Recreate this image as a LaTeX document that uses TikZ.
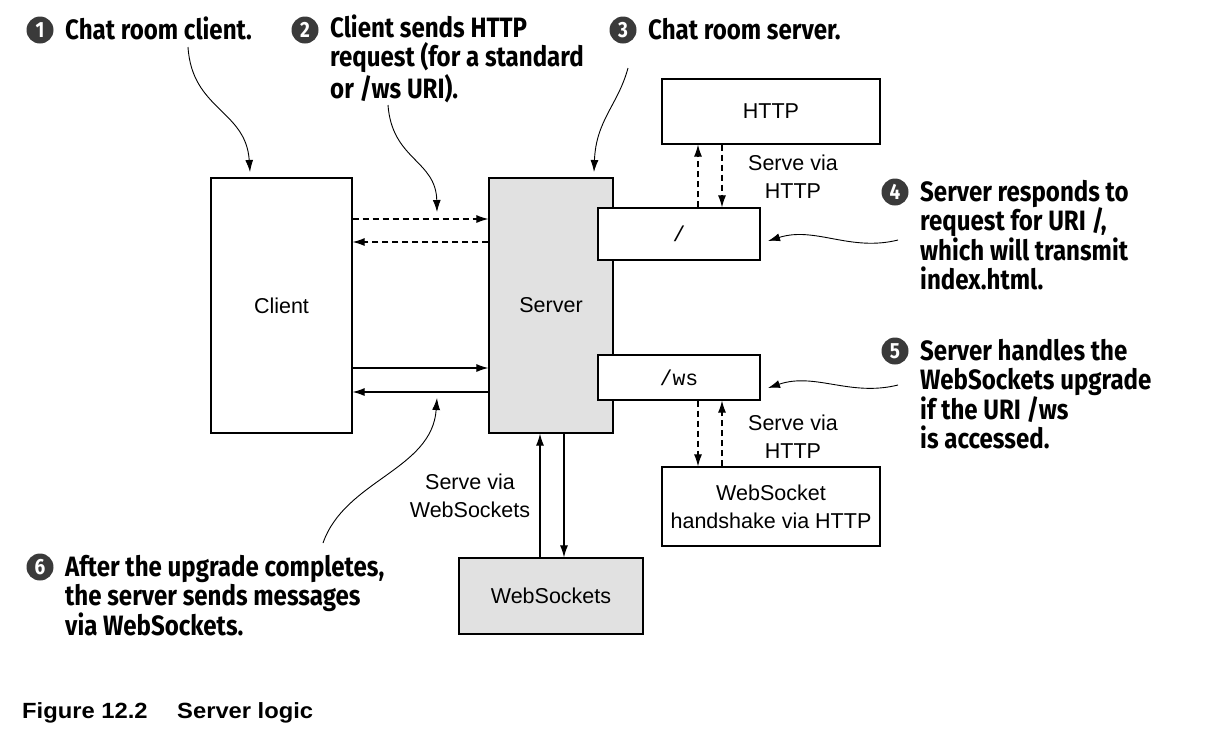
\documentclass[tikz,border=0pt]{standalone}
\usepackage{fontspec}
\setmainfont{Liberation Sans}
\setmonofont{Liberation Mono}
\newfontfamily\notefont[FakeStretch=0.86]{Fira Sans}
\newfontfamily\capfont[FakeStretch=1.08]{Liberation Sans}
\usetikzlibrary{arrows.meta}

\definecolor{ServerGray}{HTML}{E1E1E1}
\definecolor{BulletGray}{HTML}{3A3A3A}

\tikzset{
  box/.style={draw,line width=1.2pt,fill=white,inner sep=0pt,font=\fontsize{21.5}{28}\selectfont},
  graybox/.style={box,fill=ServerGray},
  flow/.style={line width=1.1pt,-{Latex[length=12pt,width=8pt]}},
  dflow/.style={flow,dash pattern=on 6pt off 4pt},
  callout/.style={line width=0.9pt,-{Latex[length=12pt,width=8pt]}},
  bullet/.style={circle,fill=BulletGray,text=white,inner sep=0pt,minimum size=27pt,
    font=\notefont\bfseries\fontsize{22}{22}\selectfont},
  note/.style={anchor=base west,align=left,inner sep=0pt,
    font=\notefont\bfseries\fontsize{28}{29.5}\selectfont},
  lbl/.style={align=center,inner sep=0pt,font=\fontsize{21.5}{28}\selectfont},
}

\begin{document}
\begin{tikzpicture}[x=1pt,y=-1pt]
  \useasboundingbox (0,0) rectangle (1208,748);

  % ===== Cajas =====
  \node[box,minimum width=141pt,minimum height=255pt]     (client) at (281.5,305.5) {Client};
  \node[graybox,minimum width=124pt,minimum height=255pt] (server) at (551,305.5)   {Server};
  \node[box,minimum width=218pt,minimum height=65pt]      (http)   at (771,111.5)   {HTTP};
  \node[box,minimum width=162pt,minimum height=52pt]      (root)   at (679,234)     {\ttfamily /};
  \node[box,minimum width=162pt,minimum height=45pt]      (ws)     at (679,377.5)   {\ttfamily /ws};
  \node[box,align=center,minimum width=218pt,minimum height=79pt] (hs) at (771,506.5)
       {WebSocket\\handshake via HTTP};
  \node[graybox,minimum width=184pt,minimum height=76pt]  (wsk)    at (551,596)     {WebSockets};

  % ===== Flechas =====
  \draw[dflow] (client.east |- 0,219) -- (server.west |- 0,219);
  \draw[dflow] (server.west |- 0,242) -- (client.east |- 0,242);
  \draw[flow]  (client.east |- 0,368) -- (server.west |- 0,368);
  \draw[flow]  (server.west |- 0,392) -- (client.east |- 0,392);

  \draw[dflow] (root.north -| 698,0) -- (http.south -| 698,0);
  \draw[dflow] (http.south -| 722,0) -- (root.north -| 722,0);
  \draw[dflow] (ws.south -| 698,0)   -- (hs.north -| 698,0);
  \draw[dflow] (hs.north -| 722,0)   -- (ws.south -| 722,0);
  \draw[flow]  (wsk.north -| 540,0)  -- (server.south -| 540,0);
  \draw[flow]  (server.south -| 564,0) -- (wsk.north -| 564,0);

  % ===== Etiquetas =====
  \node[lbl] (lhttpa) at (793,177) {Serve via\\HTTP};
  \node[lbl] (lhttpb) at (793,437) {Serve via\\HTTP};
  \node[lbl] (lwsk)   at (470,496) {Serve via\\WebSockets};

  % ===== Notas numeradas (base = ultima linea) =====
  \node[bullet] (b1) at (40,30)   {1};
  \node[note]   (n1) at (65,39)   {Chat room client.};
  \node[bullet] (b2) at (305,30)  {2};
  \node[note]   (n2) at (330,98)  {Client sends HTTP\\request (for a standard\\or /ws URI).};
  \node[bullet] (b3) at (623,30)  {3};
  \node[note]   (n3) at (648,39)  {Chat room server.};
  \node[bullet] (b4) at (895,192) {4};
  \node[note]   (n4) at (920,289.5) {Server responds to\\request for URI /,\\which will transmit\\index.html.};
  \node[bullet] (b5) at (895,351) {5};
  \node[note]   (n5) at (920,448.5) {Server handles the\\WebSockets upgrade\\if the URI /ws\\is accessed.};
  \node[bullet] (b6) at (40,567)  {6};
  \node[note]   (n6) at (65,635)  {After the upgrade completes,\\the server sends messages\\via WebSockets.};

  % ===== Llamadas =====
  \coordinate (s1) at (188,47);  \coordinate (t1) at (250,172);
  \coordinate (s2) at (388,105); \coordinate (t2) at (437,212);
  \coordinate (s3) at (628,68);  \coordinate (t3) at (594,172);
  \coordinate (s4) at (898,240); \coordinate (t4) at (768,241);
  \coordinate (s5) at (898,385); \coordinate (t5) at (768,388);
  \coordinate (s6) at (323,543); \coordinate (t6) at (437,398);
  \draw[callout] (s1) .. controls (192,110) and (246,110) .. (t1);
  \draw[callout] (s2) .. controls (392,160) and (436,160) .. (t2);
  \draw[callout] (s3) .. controls (618,105) and (596,120) .. (t3);
  \draw[callout] (s4) .. controls (850,252) and (815,226) .. (t4);
  \draw[callout] (s5) .. controls (850,397) and (815,372) .. (t5);
  \draw[callout] (s6) .. controls (345,480) and (432,470) .. (t6);

  % ===== Pie =====
  \node[anchor=base west,inner sep=0pt,font=\capfont\bfseries\fontsize{22}{24}\selectfont]
       (fig) at (22,718) {Figure 12.2};
  \node[anchor=base west,inner sep=0pt,font=\capfont\bfseries\fontsize{22}{24}\selectfont]
       (cap) at (177,718) {Server logic};
\end{tikzpicture}
\end{document}
